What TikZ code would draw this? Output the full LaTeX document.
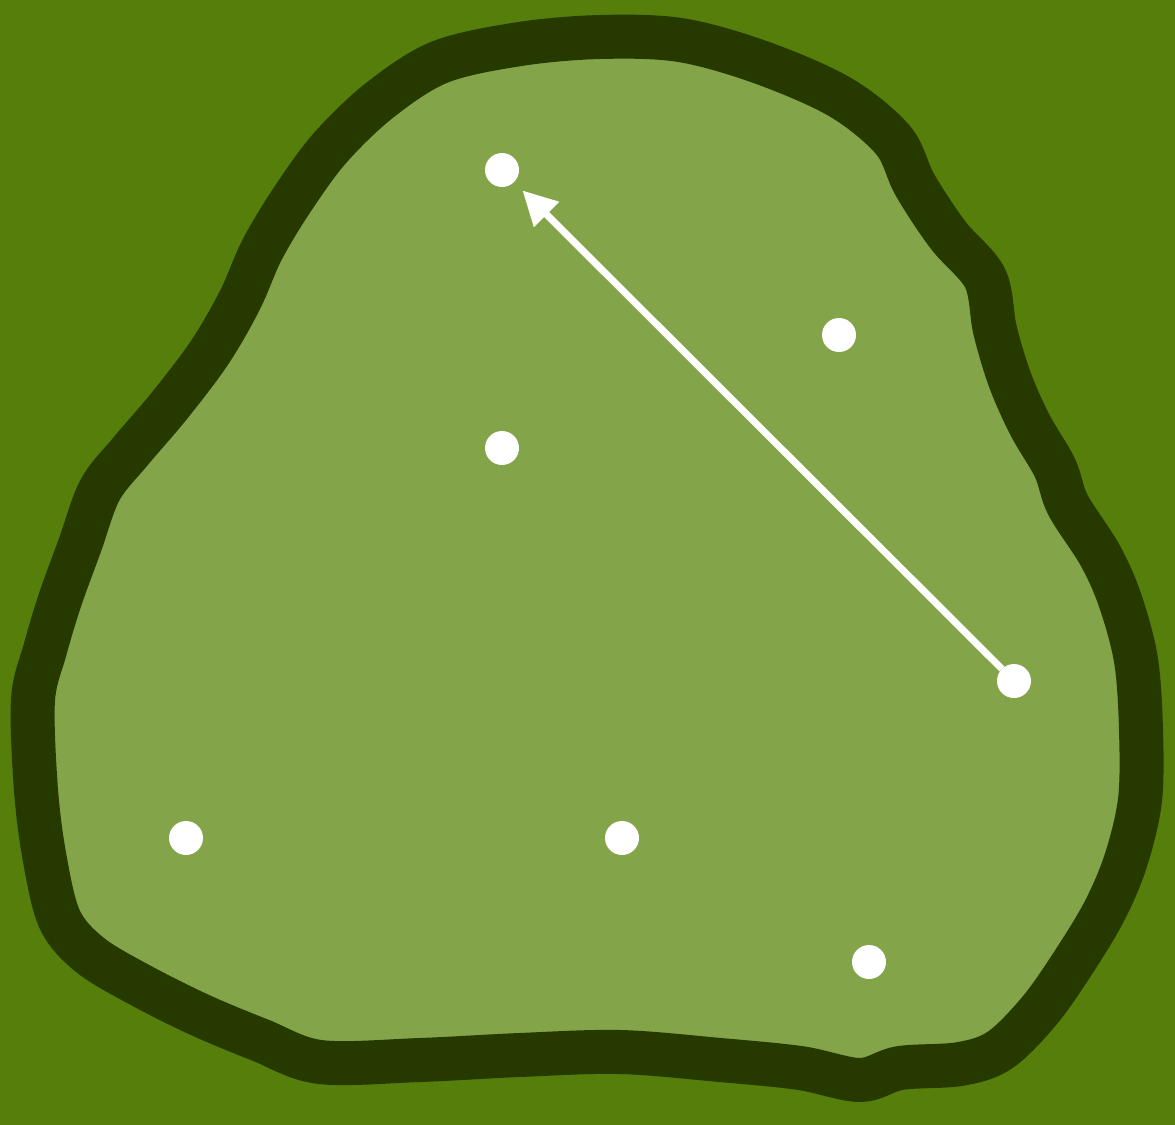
\documentclass[tikz,border=0pt]{standalone}
\usetikzlibrary{arrows.meta}
\definecolor{rough}{RGB}{85,126,10}
\definecolor{fringe}{RGB}{38,58,0}
\definecolor{green}{RGB}{132,164,74}
\tikzset{
  ball/.style={circle,fill=white,minimum size=17pt,inner sep=0pt,outer sep=0pt},
  putt/.style={white,line width=3.5pt,-{Triangle[length=17pt,width=17pt]},shorten >=6pt}
}
\begin{document}
\begin{tikzpicture}[x=0.5pt,y=-0.5pt]
\fill[rough] (0,0) rectangle (1175,1125);
\useasboundingbox (0,0) rectangle (1175,1125);
\draw[fill=green,draw=fringe,line width=22pt,line join=round]
  plot[smooth cycle,tension=0.55] coordinates {
  (600,37) (680,40) (760,62) (840,97) (893,140) (915,185) (948,235) (985,278)
  (995,330) (1010,380) (1030,425) (1055,468) (1068,505) (1100,555) (1120,600)
  (1136,660) (1141,730) (1140,800) (1126,860) (1105,910) (1075,960) (1040,1010)
  (1000,1050) (960,1064) (900,1068) (860,1080) (800,1068) (720,1060) (620,1052)
  (520,1055) (420,1060) (320,1062) (260,1040) (200,1015) (140,985) (90,955)
  (60,920) (45,860) (36,790) (33,700) (45,650) (60,600) (80,545) (100,490)
  (130,452) (170,405) (210,352) (240,300) (262,250) (292,200) (330,148)
  (380,100) (440,62) (520,44)};
\node[ball] (b1) at (502,170) {};
\node[ball] (b2) at (839,335) {};
\node[ball] (b3) at (502,448) {};
\node[ball] (b4) at (1014,681) {};
\node[ball] (b5) at (186,838) {};
\node[ball] (b6) at (622,838) {};
\node[ball] (b7) at (869,962) {};
\draw[putt] (b4) -- (b1);
\end{tikzpicture}
\end{document}
